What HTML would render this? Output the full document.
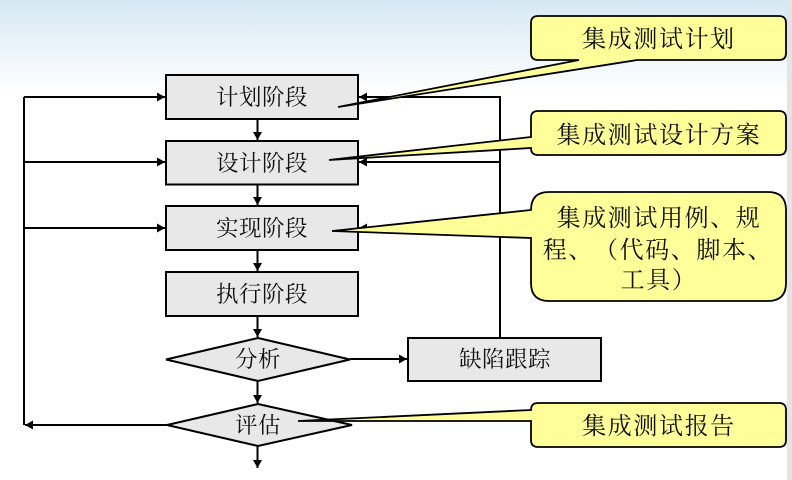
<!DOCTYPE html>
<html>
<head>
<meta charset="utf-8">
<style>
html,body{margin:0;padding:0;background:#fff}
svg{display:block}
text{font-family:"Liberation Serif","Noto Serif CJK SC",serif;fill:#111;text-anchor:middle;text-spacing-trim:space-all;font-feature-settings:"chws" 0,"palt" 0}
.a{font-size:22.5px;letter-spacing:.5px}
.b{font-size:24px;letter-spacing:1.6px}
</style>
</head>
<body>
<svg width="792" height="480" viewBox="0 0 792 480" xmlns="http://www.w3.org/2000/svg">
<defs>
<linearGradient id="g" x1="0" y1="0" x2="0" y2="1">
<stop offset="0" stop-color="#d6e8f4"/><stop offset="1" stop-color="#ffffff"/>
</linearGradient>
<marker id="m" viewBox="0 0 8 8" refX="8" refY="4" markerWidth="8" markerHeight="9" preserveAspectRatio="none" markerUnits="userSpaceOnUse" orient="auto">
<path d="M0 0L8 4L0 8Z" fill="#000"/>
</marker>
</defs>
<rect width="792" height="480" fill="#fff"/>
<rect width="792" height="95" fill="url(#g)"/>
<rect x="787" y="0" width="5" height="480" fill="#e4e4e4"/>

<g fill="none" stroke="#000" stroke-width="2">
<path d="M24 97V425"/>
<path d="M24 97H165" marker-end="url(#m)"/>
<path d="M24 162H165" marker-end="url(#m)"/>
<path d="M24 228H165" marker-end="url(#m)"/>
<path d="M167 425H25" marker-end="url(#m)"/>
<path d="M500 338V97H359" marker-end="url(#m)"/>
<path d="M500 162H359" marker-end="url(#m)"/>
<path d="M500 228H359" marker-end="url(#m)"/>
<path d="M350 359H407" marker-end="url(#m)"/>
<path d="M257.500 119V140" marker-end="url(#m)"/>
<path d="M257.500 185V205" marker-end="url(#m)"/>
<path d="M257.500 250V271" marker-end="url(#m)"/>
<path d="M257.500 316V337" marker-end="url(#m)"/>
<path d="M257.500 381V403" marker-end="url(#m)"/>
<path d="M257.500 446V468" marker-end="url(#m)"/>
</g>

<g fill="#e8e8e8" stroke="#000" stroke-width="2">
<rect x="166" y="75" width="192" height="44"/>
<rect x="166" y="141" width="192" height="43.500"/>
<rect x="166" y="206" width="192" height="44"/>
<rect x="166" y="272" width="192" height="44"/>
<rect x="408" y="338" width="193" height="43"/>
<path d="M258 338L350 359.500L258 381L166 359.500Z"/>
<path d="M258 404L352 425L258 446L167 425Z"/>
</g>

<g fill="#ffff99" stroke="#000" stroke-width="1.800" stroke-linejoin="miter">
<path d="M538 16H779Q786 16 786 23V53Q786 60 779 60H637L338 107L579 60H538Q531 60 531 53V23Q531 16 538 16Z"/>
<path d="M538 111H779Q786 111 786 118V148Q786 155 779 155H538Q531 155 531 148L329 160L531 137V118Q531 111 538 111Z"/>
<path d="M549 192H768Q786 192 786 210V283Q786 301 768 301H549Q531 301 531 283V238L332 231L531 210Q531 192 549 192Z"/>
<path d="M538 403H779Q786 403 786 410V440Q786 447 779 447H538Q531 447 531 440V421L298 421L531 410Q531 403 538 403Z"/>
</g>

<g class="a">
<text x="262" y="105">计划阶段</text>
<text x="262" y="171">设计阶段</text>
<text x="262" y="236">实现阶段</text>
<text x="262" y="302">执行阶段</text>
<text x="258" y="367">分析</text>
<text x="258" y="433">评估</text>
<text x="505" y="367">缺陷跟踪</text>
</g>
<g class="b">
<text x="659" y="47">集成测试计划</text>
<text x="659" y="143">集成测试设计方案</text>
<text x="659" y="226">集成测试用例、规</text>
<text x="658" y="258">程、（代码、脚本、</text>
<text x="659" y="288">工具）</text>
<text x="659" y="434">集成测试报告</text>
</g>
</svg>
</body>
</html>
